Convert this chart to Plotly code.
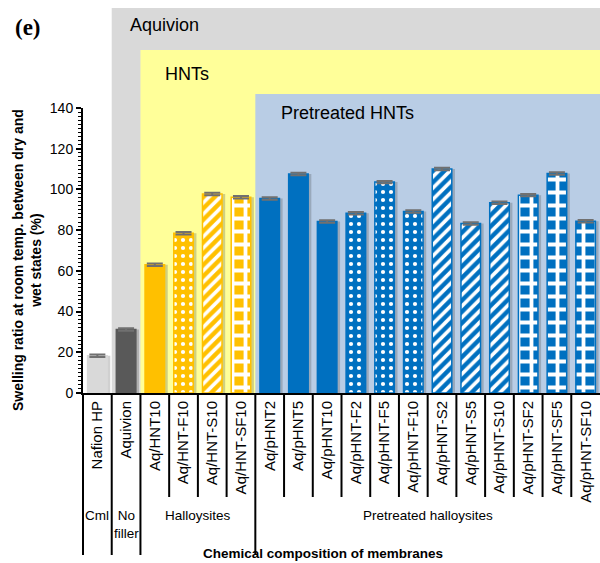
import plotly.graph_objects as go

categories = ["Nafion HP", "Aquivion", "Aq/HNT10", "Aq/HNT-F10", "Aq/HNT-S10", "Aq/HNT-SF10",
              "Aq/pHNT2", "Aq/pHNT5", "Aq/pHNT10", "Aq/pHNT-F2", "Aq/pHNT-F5", "Aq/pHNT-F10",
              "Aq/pHNT-S2", "Aq/pHNT-S5", "Aq/pHNT-S10", "Aq/pHNT-SF2", "Aq/pHNT-SF5", "Aq/pHNT-SF10"]
values = [18.3, 31.2, 63.0, 78.5, 97.8, 96.2, 95.5, 107.6, 84.2, 88.3, 103.6, 89.2,
          110.0, 83.3, 93.5, 97.2, 107.8, 84.4]
errors = [0.6] * 18
bar_colors = ["#d9d9d9", "#595959", "#ffc000", "#ffc000", "#ffc000", "#ffc000",
              "#0070c0", "#0070c0", "#0070c0", "#0070c0", "#0070c0", "#0070c0",
              "#0070c0", "#0070c0", "#0070c0", "#0070c0", "#0070c0", "#0070c0"]
patterns = ["", "", "", ".", "/", "+", "", "", "", ".", ".", ".", "/", "/", "/", "+", "+", "+"]

group_labels = ["Cml", "No<br>filler", "Halloysites", "Pretreated halloysites"]
group_centers = [0, 1, 3.5, 11.5]
long_separators = [0, 1, 2, 6]
short_separators = [3, 4, 5, 7, 8, 9, 10, 11, 12, 13, 14, 15, 16, 17]

FONT = "Arial, Liberation Sans, sans-serif"
N = len(categories)
BW = 0.68

pat_size = {"": 8, ".": 8, "/": 8, "+": 13}
pat_sol = {"": 0.3, ".": 0.22, "/": 0.45, "+": 0.5}

fig = go.Figure()

# drop shadows
fig.add_trace(go.Bar(
    x=categories, y=values, width=BW, offset=-BW / 2 + 0.11,
    marker=dict(color="rgba(40,40,40,0.22)", line=dict(width=0)),
    hoverinfo="skip", showlegend=False))

# one trace per bar colour (scalar colour keeps the pattern background = bar colour)
seen = []
for c in bar_colors:
    if c not in seen:
        seen.append(c)
for col in seen:
    idx = [i for i, c in enumerate(bar_colors) if c == col]
    pats = [patterns[i] for i in idx]
    fig.add_trace(go.Bar(
        x=[categories[i] for i in idx], y=[values[i] for i in idx],
        width=BW, offset=-BW / 2,
        marker=dict(color=col, line=dict(color=col, width=1.5),
                    pattern=dict(shape=pats, fillmode="replace", fgcolor="#ffffff",
                                 bgcolor=col, fgopacity=1,
                                 size=[pat_size[p] for p in pats],
                                 solidity=[pat_sol[p] for p in pats])),
        error_y=dict(type="data", array=[errors[i] for i in idx], color="#707070",
                     thickness=2, width=8),
        showlegend=False))

shapes = []
# background regions
y_px = lambda py: (393 - py) / 285.0
shapes.append(dict(type="rect", xref="paper", yref="paper", x0=1 / N, x1=1.0,
                   y0=0, y1=y_px(8), fillcolor="#d9d9d9", line=dict(width=0), layer="below"))
shapes.append(dict(type="rect", xref="paper", yref="paper", x0=2 / N, x1=1.0,
                   y0=0, y1=y_px(50), fillcolor="#ffff99", line=dict(width=0), layer="below"))
shapes.append(dict(type="rect", xref="paper", yref="paper", x0=6 / N, x1=1.0,
                   y0=0, y1=y_px(94), fillcolor="#b9cde5", line=dict(width=0), layer="below"))
# separators below axis
for k in long_separators:
    shapes.append(dict(type="line", xref="paper", yref="paper", x0=k / N, x1=k / N,
                       y0=0, y1=y_px(555), line=dict(color="black", width=2)))
for k in short_separators:
    shapes.append(dict(type="line", xref="paper", yref="paper", x0=k / N, x1=k / N,
                       y0=0, y1=y_px(497), line=dict(color="black", width=2)))

annotations = []
annotations.append(dict(text="Aquivion", xref="paper", yref="paper", x=(128 - 83) / 517,
                        y=y_px(25), xanchor="left", yanchor="middle", showarrow=False,
                        font=dict(family=FONT, size=18, color="black")))
annotations.append(dict(text="HNTs", xref="paper", yref="paper", x=(163 - 83) / 517,
                        y=y_px(74), xanchor="left", yanchor="middle", showarrow=False,
                        font=dict(family=FONT, size=18, color="black")))
annotations.append(dict(text="Pretreated HNTs", xref="paper", yref="paper", x=(279 - 83) / 517,
                        y=y_px(113), xanchor="left", yanchor="middle", showarrow=False,
                        font=dict(family=FONT, size=18, color="black")))
for lab, c in zip(group_labels, group_centers):
    annotations.append(dict(text=lab, xref="x", yref="paper", x=c, y=y_px(506),
                            xanchor="center", yanchor="top", showarrow=False,
                            font=dict(family=FONT, size=13.5, color="black")))
annotations.append(dict(text="<b>Chemical composition of membranes</b>", xref="paper", yref="paper",
                        x=(323 - 83) / 517, y=y_px(553), xanchor="center", yanchor="middle",
                        showarrow=False, font=dict(family=FONT, size=13.5, color="black")))
annotations.append(dict(text="<b>Swelling ratio at room temp. between dry and<br>wet states (%)</b>",
                        xref="paper", yref="paper", x=(27 - 83) / 517, y=y_px(260),
                        xanchor="center", yanchor="middle", textangle=-90, showarrow=False,
                        font=dict(family=FONT, size=14, color="black")))
annotations.append(dict(text="<b>(e)</b>", xref="paper", yref="paper", x=(13 - 83) / 517,
                        y=y_px(27), xanchor="left", yanchor="middle", showarrow=False,
                        font=dict(family="Liberation Serif, Times New Roman, serif", size=23,
                                  color="black")))

fig.update_layout(
    width=600, height=563,
    margin=dict(l=83, r=0, t=108, b=170),
    paper_bgcolor="white", plot_bgcolor="white",
    barmode="overlay", bargap=0.3,
    font=dict(family=FONT, size=13, color="black"),
    shapes=shapes, annotations=annotations,
    showlegend=False,
)
fig.update_xaxes(range=[-0.5, N - 0.5], showline=True, linecolor="black", linewidth=2,
                 categoryorder="array", categoryarray=categories,
                 ticks="", tickangle=-90, tickfont=dict(family=FONT, size=15),
                 showgrid=False, fixedrange=True)
fig.update_yaxes(range=[0, 140], dtick=20, showline=True, linecolor="black", linewidth=2,
                 ticks="outside", ticklen=5, tickwidth=1.5, tickcolor="black",
                 minor=dict(dtick=2, ticks="outside", ticklen=3, tickwidth=1, tickcolor="black"),
                 tickfont=dict(family=FONT, size=14), showgrid=False, zeroline=False)

fig.write_html("out.html", config={"displayModeBar": False},
               post_script="document.body.style.margin='0';document.body.style.overflow='hidden';")
